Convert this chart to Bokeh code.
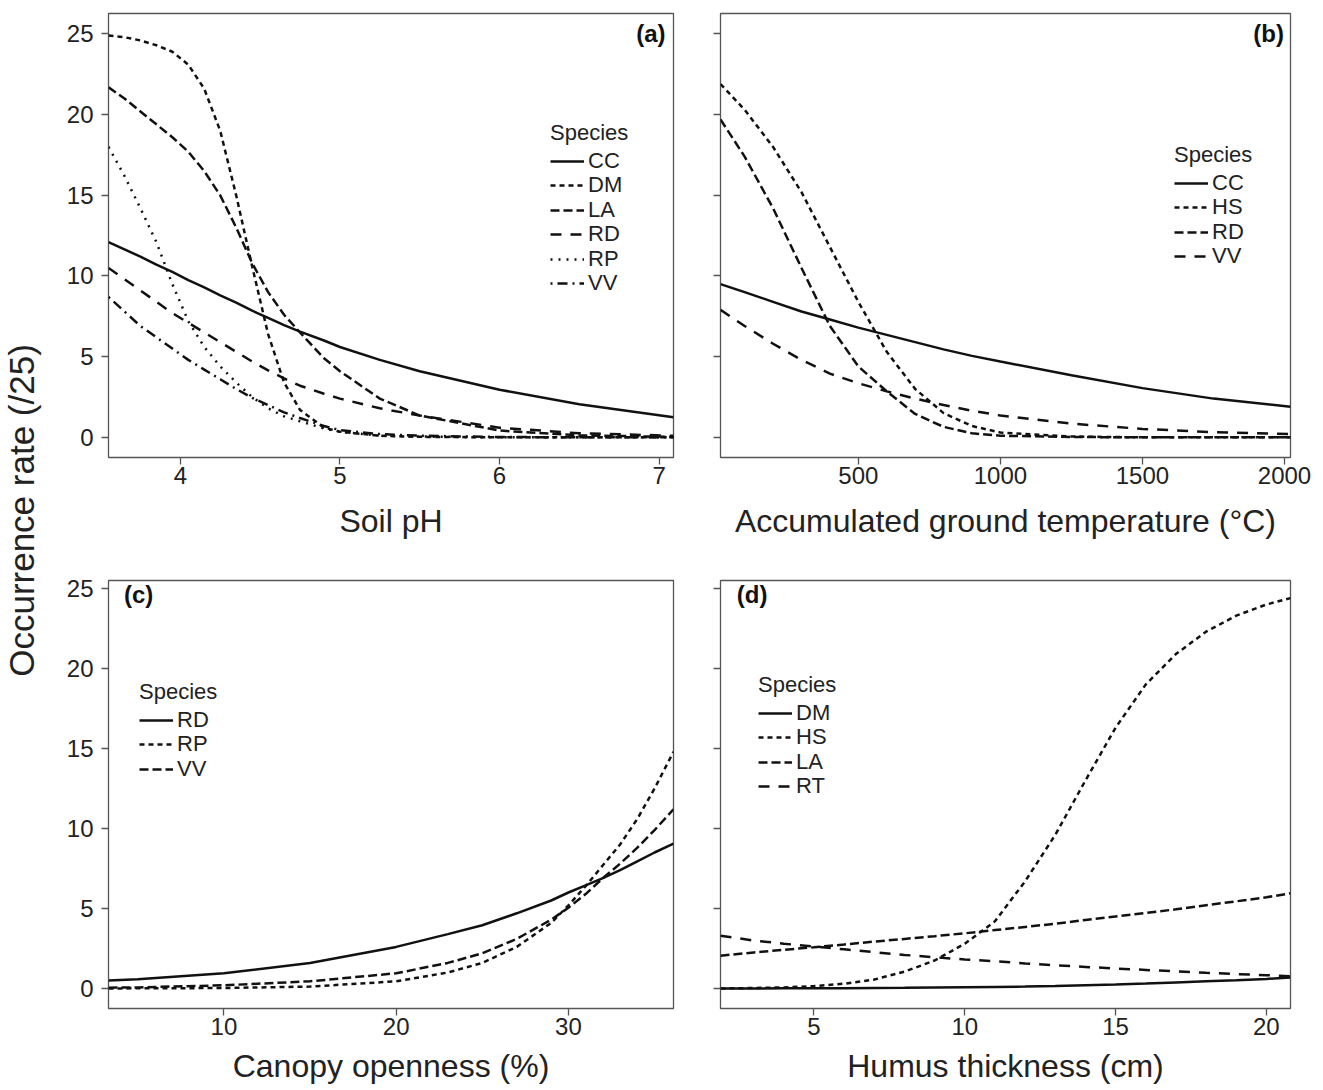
from bokeh.plotting import figure
from bokeh.layouts import row, column
from bokeh.models import (Legend, LegendItem, Label, Range1d, FixedTicker,
                          CustomJSTickFormatter)
from bokeh.embed import file_html
from bokeh.resources import INLINE

FONT = "Liberation Sans"
INK = "#111111"
FRAME = "#555555"
TXT = "#222222"

# ---------------- data ----------------
# (a) Soil pH
ph_x  = [3.55, 3.65, 3.75, 3.85, 3.95, 4.05, 4.15, 4.25, 4.35, 4.45, 4.55, 4.65, 4.75, 4.9, 5.0, 5.25, 5.5, 6.0, 6.5, 7.09]
ph_CC = [12.1, 11.65, 11.2, 10.7, 10.25, 9.75, 9.3, 8.8, 8.35, 7.85, 7.4, 6.95, 6.55, 6.0, 5.6, 4.8, 4.1, 2.95, 2.05, 1.25]
ph_DM = [24.9, 24.8, 24.6, 24.3, 23.9, 23.1, 21.6, 19.0, 15.0, 10.6, 6.4, 3.4, 1.7, 0.6, 0.35, 0.1, 0.03, 0.0, 0.0, 0.0]
ph_LA = [21.7, 21.0, 20.2, 19.4, 18.6, 17.7, 16.5, 15.0, 13.0, 10.8, 9.0, 7.6, 6.5, 4.9, 4.1, 2.4, 1.35, 0.42, 0.12, 0.03]
ph_RD = [10.5, 9.8, 9.1, 8.4, 7.7, 7.1, 6.5, 5.9, 5.3, 4.7, 4.15, 3.65, 3.2, 2.7, 2.4, 1.8, 1.35, 0.6, 0.25, 0.1]
ph_RP = [18.0, 16.2, 14.2, 12.1, 9.5, 7.2, 5.6, 4.4, 3.4, 2.5, 1.8, 1.3, 1.0, 0.55, 0.35, 0.1, 0.05, 0.0, 0.0, 0.0]
ph_VV = [8.7, 7.8, 6.9, 6.2, 5.5, 4.8, 4.2, 3.6, 3.0, 2.45, 2.0, 1.55, 1.2, 0.7, 0.45, 0.2, 0.1, 0.02, 0.0, 0.0]

# (b) Accumulated ground temperature
temp_x  = [15, 100, 200, 300, 400, 500, 600, 700, 800, 900, 1000, 1250, 1500, 1750, 2021]
temp_CC = [9.5, 9.0, 8.4, 7.8, 7.3, 6.8, 6.35, 5.9, 5.45, 5.05, 4.7, 3.85, 3.05, 2.4, 1.9]
temp_HS = [21.9, 20.3, 18.0, 15.2, 11.8, 8.4, 5.3, 3.0, 1.5, 0.7, 0.3, 0.05, 0.0, 0.0, 0.0]
temp_RD = [19.7, 17.4, 14.2, 10.5, 6.9, 4.4, 2.85, 1.45, 0.65, 0.25, 0.1, 0.02, 0.0, 0.0, 0.0]
temp_VV = [7.9, 6.9, 5.8, 4.8, 3.95, 3.35, 2.85, 2.4, 2.0, 1.65, 1.35, 0.85, 0.52, 0.32, 0.2]

# (c) Canopy openness
can_x  = [3.3, 5, 10, 15, 20, 23, 25, 27, 29, 30, 31, 32, 33, 34, 35, 36.1]
can_RD = [0.5, 0.58, 0.95, 1.6, 2.6, 3.4, 3.95, 4.7, 5.5, 6.0, 6.45, 6.9, 7.4, 7.95, 8.5, 9.05]
can_RP = [0.0, 0.01, 0.03, 0.12, 0.45, 1.0, 1.6, 2.6, 4.1, 5.2, 6.4, 7.7, 9.0, 10.6, 12.5, 14.8]
can_VV = [0.05, 0.07, 0.2, 0.45, 0.95, 1.6, 2.2, 3.1, 4.3, 5.05, 5.9, 6.9, 7.8, 8.8, 9.9, 11.2]

# (d) Humus thickness
hum_x  = [1.9, 3, 4, 5, 6, 7, 8, 9, 10, 11, 12, 13, 14, 15, 16, 17, 18, 19, 20, 20.8]
hum_DM = [0.0, 0.0, 0.01, 0.01, 0.02, 0.03, 0.04, 0.06, 0.08, 0.1, 0.12, 0.15, 0.2, 0.25, 0.31, 0.38, 0.45, 0.52, 0.6, 0.68]
hum_HS = [0.0, 0.03, 0.07, 0.15, 0.3, 0.56, 1.05, 1.75, 2.8, 4.2, 6.7, 9.6, 13.0, 16.3, 19.0, 20.9, 22.3, 23.3, 24.0, 24.4]
hum_LA = [2.05, 2.25, 2.42, 2.58, 2.75, 2.93, 3.1, 3.27, 3.45, 3.65, 3.85, 4.05, 4.28, 4.5, 4.72, 4.95, 5.2, 5.45, 5.7, 5.95]
hum_RT = [3.3, 3.0, 2.8, 2.62, 2.45, 2.27, 2.1, 1.95, 1.82, 1.7, 1.57, 1.45, 1.35, 1.25, 1.16, 1.07, 0.98, 0.9, 0.83, 0.77]

y_ticks = [0, 5, 10, 15, 20, 25]
ph_ticks = [4, 5, 6, 7]
temp_ticks = [500, 1000, 1500, 2000]
can_ticks = [10, 20, 30]
hum_ticks = [5, 10, 15, 20]

DASH = {"solid": "solid", "short": "5 4", "dash": "9 4", "long": "11 9",
        "dot": "2 6", "dotdash": "2 5 10 5"}

LEG_FONT = "22px"
ITEM_H = 26      # approx. height Bokeh gives one legend row at this font
PITCH = 24.4     # spacing between legend rows in the reference


def legend_kw():
    return dict(border_line_color=None, background_fill_alpha=0,
                padding=0, margin=0, spacing=0,
                glyph_width=34, glyph_height=18, label_height=18,
                label_standoff=4, title_standoff=2,
                label_text_font=FONT, label_text_font_size=LEG_FONT,
                label_text_color=TXT,
                title_text_font=FONT, title_text_font_size=LEG_FONT,
                title_text_font_style="normal", title_text_color=TXT)


def panel(x, series, xticks, xlabel, yrange, width, height, borders,
          show_ylab, tag, tag_xy, tag_align, leg_left, leg_first_from_top,
          title_standoff):
    left, right, top, bottom = borders
    p = figure(width=width, height=height, output_backend="svg",
               toolbar_location=None,
               x_range=Range1d(min(x), max(x)), y_range=Range1d(*yrange),
               min_border_left=left, min_border_right=right,
               min_border_top=top, min_border_bottom=bottom)
    frame_h = height - top - bottom
    p.grid.visible = False
    p.outline_line_color = FRAME
    p.outline_line_width = 1.3
    for ax in (p.xaxis[0], p.yaxis[0]):
        ax.axis_line_color = None
        ax.major_tick_line_color = FRAME
        ax.major_tick_line_width = 1.3
        ax.major_tick_out = 7
        ax.major_tick_in = 0
        ax.minor_tick_line_color = None
        ax.major_label_text_font = FONT
        ax.major_label_text_font_size = "24px"
        ax.major_label_text_color = TXT
        ax.axis_label_text_font = FONT
        ax.axis_label_text_font_size = "32px"
        ax.axis_label_text_font_style = "normal"
        ax.axis_label_text_color = TXT
    p.xaxis.ticker = FixedTicker(ticks=xticks)
    p.yaxis.ticker = FixedTicker(ticks=y_ticks)
    p.xaxis.axis_label = xlabel
    p.xaxis.major_label_standoff = 2
    p.xaxis.axis_label_standoff = title_standoff
    p.yaxis.major_label_standoff = 8
    if not show_ylab:
        p.yaxis.formatter = CustomJSTickFormatter(code="return ''")
    for i, (name, y, style) in enumerate(series):
        r = p.line(x, y, line_color=INK, line_width=2.5,
                   line_dash=DASH[style])
        centre = leg_first_from_top + i * PITCH          # px below frame top
        loc = (leg_left, round(frame_h - centre - ITEM_H / 2))
        kw = legend_kw()
        if i == 0:
            kw["title"] = "Species"
        p.add_layout(Legend(items=[LegendItem(label=name, renderers=[r])],
                            location=loc, **kw))
    p.add_layout(Label(x=tag_xy[0], y=tag_xy[1], text=tag,
                       text_align=tag_align, text_baseline="middle",
                       text_font=FONT, text_font_size="24px",
                       text_font_style="bold", text_color=INK))
    return p


pa = panel(ph_x, [("CC", ph_CC, "solid"), ("DM", ph_DM, "short"),
                  ("LA", ph_LA, "dash"), ("RD", ph_RD, "long"),
                  ("RP", ph_RP, "dot"), ("VV", ph_VV, "dotdash")],
           ph_ticks, "Soil pH", (-1.25, 26.27), 640, 560, (58, 17, 13, 103),
           True, "(a)", (7.04, 25.0), "right", 442, 148, 16)
pb = panel(temp_x, [("CC", temp_CC, "solid"), ("HS", temp_HS, "short"),
                    ("RD", temp_RD, "dash"), ("VV", temp_VV, "long")],
           temp_ticks, "Accumulated ground temperature (°C)", (-1.25, 26.27),
           630, 560, (30, 30, 13, 103),
           False, "(b)", (1998, 25.0), "right", 454, 170, 16)
pc = panel(can_x, [("RD", can_RD, "solid"), ("RP", can_RP, "short"),
                   ("VV", can_VV, "dash")],
           can_ticks, "Canopy openness (%)", (-1.25, 25.5), 640, 530,
           (58, 17, 20, 82),
           True, "(c)", (4.2, 24.6), "left", 31, 140, 10)
pd_ = panel(hum_x, [("DM", hum_DM, "solid"), ("HS", hum_HS, "short"),
                    ("LA", hum_LA, "dash"), ("RT", hum_RT, "long")],
            hum_ticks, "Humus thickness (cm)", (-1.25, 25.5), 630, 530,
            (30, 30, 20, 82),
            False, "(d)", (2.44, 24.6), "left", 38, 133, 10)

strip = figure(width=50, height=1090, output_backend="svg",
               toolbar_location=None, x_range=Range1d(0, 50),
               y_range=Range1d(0, 1090), min_border=0)
strip.axis.visible = False
strip.grid.visible = False
strip.outline_line_color = None
strip.add_layout(Label(x=21, y=580, text="Occurrence rate (/25)", angle=90,
                       angle_units="deg", text_align="center",
                       text_baseline="middle", text_font=FONT,
                       text_font_size="35px", text_color=TXT))

layout = row(strip, column(row(pa, pb), row(pc, pd_)))
open("out.html", "w").write(file_html(layout, INLINE))
